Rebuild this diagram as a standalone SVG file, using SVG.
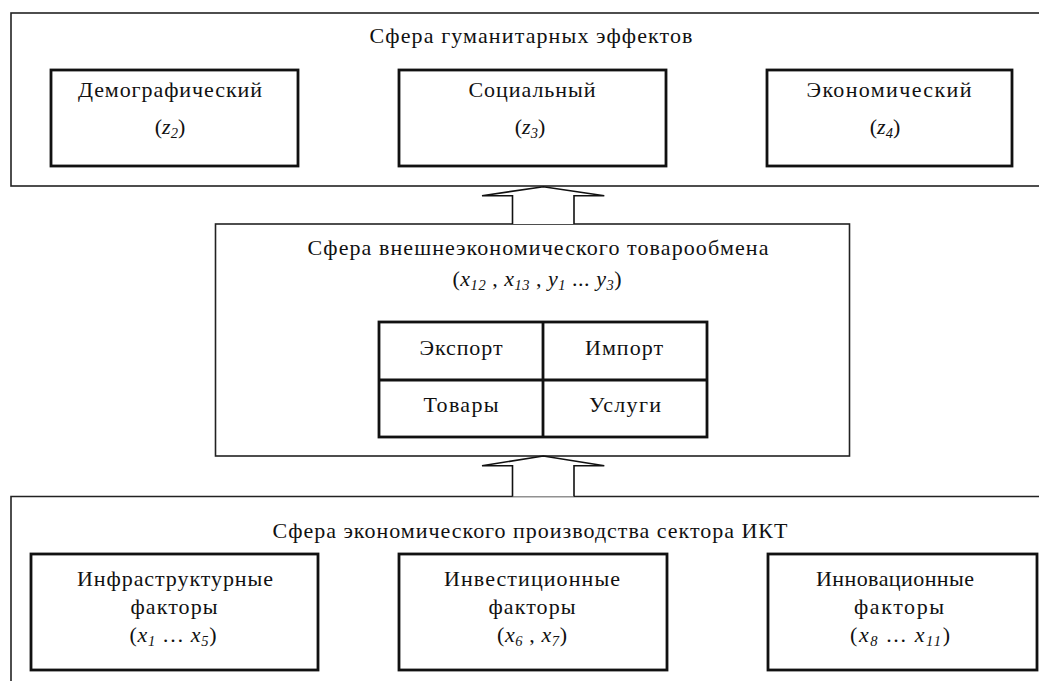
<svg xmlns="http://www.w3.org/2000/svg" width="1039" height="681" viewBox="0 0 1039 681">
<style>
text{font-family:"Liberation Serif","Times New Roman",serif;font-size:22px;fill:#111;text-anchor:middle}
.i{font-style:italic}
.s{font-style:italic;font-size:14.5px}
.frame{fill:none;stroke:#222;stroke-width:1.6}
.box{fill:#fff;stroke:#111;stroke-width:2.8}
.arrow{fill:#fff;stroke:#111;stroke-width:1.6;stroke-linejoin:miter}
</style>
<rect width="1039" height="681" fill="#fff"/>

<g id="sphere-humanitarian">
<rect class="frame" x="11" y="13" width="1040" height="173"/>
<text x="531" y="43" textLength="323" lengthAdjust="spacing">Сфера гуманитарных эффектов</text>
</g>
<g id="demographic">
<rect class="box" x="51" y="70" width="247" height="96"/>
<text x="170" y="97" textLength="184" lengthAdjust="spacing">Демографический</text>
<text x="170" y="134">(<tspan class="i">z</tspan><tspan class="s" dy="4">2</tspan><tspan dy="-4">)</tspan></text>
</g>
<g id="social">
<rect class="box" x="399" y="70" width="267" height="96"/>
<text x="532" y="97" textLength="127" lengthAdjust="spacing">Социальный</text>
<text x="530" y="134">(<tspan class="i">z</tspan><tspan class="s" dy="4">3</tspan><tspan dy="-4">)</tspan></text>
</g>
<g id="economic">
<rect class="box" x="767" y="70" width="245" height="96"/>
<text x="889" y="97" textLength="165" lengthAdjust="spacing">Экономический</text>
<text x="885" y="134">(<tspan class="i">z</tspan><tspan class="s" dy="4">4</tspan><tspan dy="-4">)</tspan></text>
</g>

<g id="sphere-trade">
<rect class="frame" x="215.5" y="224" width="634" height="232"/>
<text x="538" y="255" textLength="461" lengthAdjust="spacing">Сфера внешнеэкономического товарообмена</text>
<text x="537" y="286" textLength="169" lengthAdjust="spacing">(<tspan class="i">x</tspan><tspan class="s" dy="4">12</tspan><tspan dy="-4"> , </tspan><tspan class="i">x</tspan><tspan class="s" dy="4">13</tspan><tspan dy="-4"> , </tspan><tspan class="i">y</tspan><tspan class="s" dy="4">1</tspan><tspan dy="-4"> ... </tspan><tspan class="i">y</tspan><tspan class="s" dy="4">3</tspan><tspan dy="-4">)</tspan></text>
</g>
<g id="trade-table">
<rect class="box" x="379" y="322" width="328" height="115"/>
<line class="box" x1="543" y1="322" x2="543" y2="437"/>
<line class="box" x1="379" y1="380" x2="707" y2="380"/>
<text x="461" y="355" textLength="83" lengthAdjust="spacing">Экспорт</text>
<text x="624" y="355" textLength="78" lengthAdjust="spacing">Импорт</text>
<text x="461" y="412" textLength="75" lengthAdjust="spacing">Товары</text>
<text x="625" y="412" textLength="72" lengthAdjust="spacing">Услуги</text>
</g>

<g id="sphere-production">
<path class="frame" d="M11 690 V496.5 H1050"/>
<text x="530" y="538" textLength="515" lengthAdjust="spacing">Сфера экономического производства сектора ИКТ</text>
</g>
<g id="infrastructure">
<rect class="box" x="31" y="554" width="287" height="116"/>
<text x="175" y="586" textLength="196" lengthAdjust="spacing">Инфраструктурные</text>
<text x="174" y="614" textLength="87" lengthAdjust="spacing">факторы</text>
<text x="173" y="642" textLength="87" lengthAdjust="spacing">(<tspan class="i">x</tspan><tspan class="s" dy="4">1</tspan><tspan dy="-4"> … </tspan><tspan class="i">x</tspan><tspan class="s" dy="4">5</tspan><tspan dy="-4">)</tspan></text>
</g>
<g id="investment">
<rect class="box" x="399" y="554" width="268" height="116"/>
<text x="532" y="586" textLength="176" lengthAdjust="spacing">Инвестиционные</text>
<text x="532" y="614" textLength="87" lengthAdjust="spacing">факторы</text>
<text x="532" y="642" textLength="70" lengthAdjust="spacing">(<tspan class="i">x</tspan><tspan class="s" dy="4">6</tspan><tspan dy="-4"> , </tspan><tspan class="i">x</tspan><tspan class="s" dy="4">7</tspan><tspan dy="-4">)</tspan></text>
</g>
<g id="innovation">
<rect class="box" x="768" y="554" width="269" height="116"/>
<text x="895" y="586" textLength="158" lengthAdjust="spacing">Инновационные</text>
<text x="899" y="614" textLength="90" lengthAdjust="spacing">факторы</text>
<text x="900" y="642" textLength="100" lengthAdjust="spacing">(<tspan class="i">x</tspan><tspan class="s" dy="4">8</tspan><tspan dy="-4"> ... </tspan><tspan class="i">x</tspan><tspan class="s" dy="4">11</tspan><tspan dy="-4">)</tspan></text>
</g>

<g id="connectors">
<path class="arrow" d="M512.5 224 V195.7 H482 L543.3 186.8 L604.3 195.7 H574 V224"/>
<path class="arrow" d="M512.5 496.5 V465.7 H482 L543.3 456 L604.3 465.7 H574 V496.5"/>
</g>
</svg>
